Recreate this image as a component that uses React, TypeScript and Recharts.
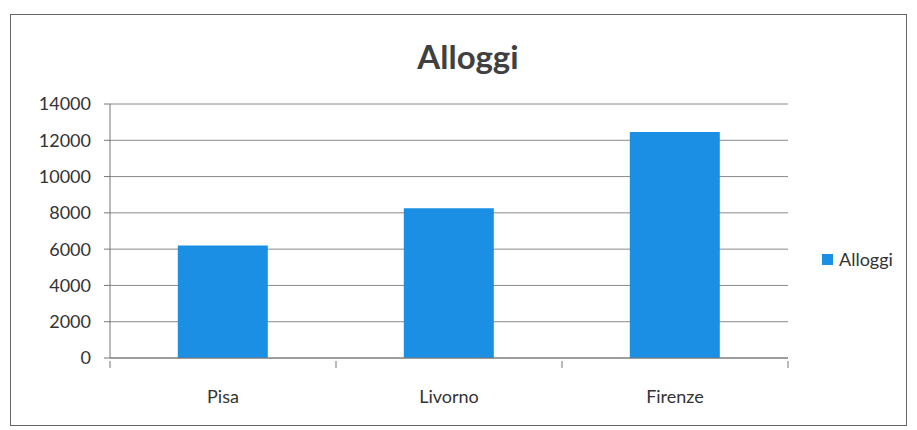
import React from 'react';
import { BarChart, Bar, XAxis, YAxis, CartesianGrid } from 'recharts';

const cities = ['Pisa', 'Livorno', 'Firenze'];
const alloggi = [6200, 8250, 12450];
const yTicks = [0, 2000, 4000, 6000, 8000, 10000, 12000, 14000];

const data = cities.map((city, i) => ({ city, alloggi: alloggi[i] }));

const W = 917;
const H = 430;
const PLOT_LEFT = 110;
const PLOT_RIGHT = 788;
const BAND = (PLOT_RIGHT - PLOT_LEFT) / cities.length;
const FONT = 'Lato, "Open Sans", sans-serif';
const BLUE = '#1a8fe3';

const CityTick = (props: any) => {
  const { x, y, payload } = props;
  return (
    <g>
      <line x1={x - BAND / 2} y1={y - 5} x2={x - BAND / 2} y2={y + 2} stroke="#777" />
      {payload.index === cities.length - 1 && (
        <line x1={x + BAND / 2} y1={y - 5} x2={x + BAND / 2} y2={y + 2} stroke="#777" />
      )}
      <text x={x} y={y + 37} textAnchor="middle" fontSize={18} fill="#333" fontFamily={FONT}>
        {payload.value}
      </text>
    </g>
  );
};

export default function App() {
  return (
    <div style={{ position: 'absolute', left: 0, top: 0, width: W, height: H, background: '#fff' }}>
      <div
        style={{
          position: 'absolute',
          left: 10,
          top: 14,
          width: 897,
          height: 412,
          border: '1px solid #666',
          boxSizing: 'border-box',
        }}
      />
      <div
        style={{
          position: 'absolute',
          left: 0,
          width: 936,
          top: 36,
          textAlign: 'center',
          fontFamily: FONT,
          fontWeight: 700,
          fontSize: 33,
          color: '#404040',
        }}
      >
        Alloggi
      </div>
      <div
        style={{
          position: 'absolute',
          left: 822,
          top: 248,
          display: 'flex',
          alignItems: 'center',
          fontFamily: FONT,
          fontSize: 18,
          color: '#333',
        }}
      >
        <span style={{ display: 'inline-block', width: 11, height: 11, background: BLUE, marginRight: 6 }} />
        Alloggi
      </div>
      <BarChart
        width={W}
        height={H}
        data={data}
        margin={{ top: 104, right: W - PLOT_RIGHT, left: 0, bottom: 0 }}
        barCategoryGap="30%"
        style={{ position: 'absolute', left: 0, top: 0 }}
      >
        <CartesianGrid vertical={false} stroke="#8a8a8a" strokeWidth={1} />
        <XAxis
          dataKey="city"
          height={72}
          axisLine={{ stroke: '#777' }}
          tickLine={false}
          tick={<CityTick />}
          interval={0}
        />
        <YAxis
          width={PLOT_LEFT}
          domain={[0, 14000]}
          ticks={yTicks}
          interval={0}
          axisLine={{ stroke: '#777' }}
          tickLine={{ stroke: '#777' }}
          tickSize={6}
          tickMargin={13}
          tick={{ fontSize: 18, fill: '#333', fontFamily: FONT }}
        />
        <Bar dataKey="alloggi" name="Alloggi" fill={BLUE} isAnimationActive={false} />
      </BarChart>
    </div>
  );
}
